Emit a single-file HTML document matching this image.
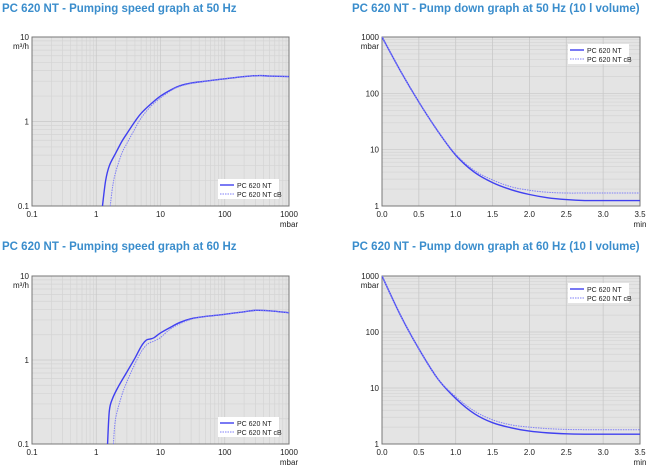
<!DOCTYPE html>
<html><head><meta charset="utf-8"><style>
body{margin:0;background:#fff;width:653px;height:468px;overflow:hidden;font-family:"Liberation Sans",sans-serif}
svg{position:absolute;left:0;top:0}
</style></head><body>
<svg id="s" width="653" height="468"></svg>
<script>
// ---- data ----
const speed50X=[1.25,1.4,1.6,2,2.5,3,4,5,7,10,15,20,30,50,100,200,350,500,1000];
const speed50Y=[0.1,0.2,0.3,0.42,0.58,0.72,1.0,1.25,1.6,2.0,2.4,2.65,2.85,3.0,3.2,3.4,3.5,3.45,3.4];
const speed50cbX=[1.65,1.8,2,2.5,3,4,5,7,10,15,20,30,50,100,200,350,500,1000];
const speed50cbY=[0.1,0.17,0.25,0.42,0.55,0.82,1.1,1.5,1.9,2.35,2.6,2.82,3.0,3.2,3.4,3.5,3.45,3.4];
const speed60X=[1.5,1.6,1.8,2.2,3,4,5,6,7,8,10,15,20,30,50,100,200,300,500,1000];
const speed60Y=[0.1,0.25,0.35,0.48,0.72,1.05,1.45,1.72,1.78,1.85,2.1,2.5,2.8,3.1,3.3,3.5,3.75,3.9,3.85,3.65];
const speed60cbX=[1.85,2,2.5,3,4,5,6,7,8,10,12,15,20,30,50,100,200,300,500,1000];
const speed60cbY=[0.1,0.2,0.38,0.55,0.9,1.25,1.5,1.62,1.68,1.85,2.1,2.4,2.7,3.05,3.3,3.5,3.75,3.9,3.85,3.65];
const down50X=[0,0.25,0.5,0.75,1.0,1.25,1.5,1.75,2.0,2.25,2.5,2.75,3.0,3.5];
const down50Y=[1000,250,70,22,8,4,2.6,1.95,1.6,1.4,1.3,1.25,1.25,1.25];
const down50cbY=[1000,250,70,22,8.3,4.3,2.9,2.2,1.9,1.75,1.7,1.7,1.7,1.7];
const down60X=[0,0.25,0.5,0.75,1.0,1.25,1.5,1.75,2.0,2.25,2.5,2.75,3.0,3.5];
const down60Y=[1000,200,50,15,6.5,3.5,2.4,1.95,1.7,1.58,1.52,1.5,1.5,1.5];
const down60cbY=[1000,200,50,15,7,3.9,2.7,2.2,2.0,1.88,1.82,1.8,1.8,1.8];
const speedXTicks=["0.1","1","10","100","1000"];
const speedYTicks=["0.1","1","10"];
const downXTicks=["0.0","0.5","1.0","1.5","2.0","2.5","3.0","3.5"];
const downYTicks=["1","10","100","1000"];
const legendNames=["PC 620 NT","PC 620 NT cB"];
// ---- drawing ----
const S=document.getElementById('s'),NS='http://www.w3.org/2000/svg';
function el(t,a,p){const e=document.createElementNS(NS,t);for(const k in a)e.setAttribute(k,a[k]);(p||S).appendChild(e);return e;}
function txt(x,y,s,opt){const e=el('text',Object.assign({x:x,y:y,'font-size':8,fill:'#222','font-family':'Liberation Sans, sans-serif'},opt||{}));e.textContent=s;return e;}
function smooth(pts){let d='M'+pts[0][0]+','+pts[0][1];for(let i=0;i<pts.length-1;i++){const p0=pts[i-1]||pts[i],p1=pts[i],p2=pts[i+1],p3=pts[i+2]||p2;
d+=' C'+(p1[0]+(p2[0]-p0[0])/6)+','+(p1[1]+(p2[1]-p0[1])/6)+' '+(p2[0]-(p3[0]-p1[0])/6)+','+(p2[1]-(p3[1]-p1[1])/6)+' '+p2[0]+','+p2[1];}return d;}
function chart(o){
 const g=el('g',{});
 const t=txt(o.tx,o.ty,o.title,{'font-size':11.5,'font-weight':'bold',fill:'#3a8dcc'});
 const L=o.l,R=o.r,T=o.t,B=o.b;
 el('rect',{x:L,y:T,width:R-L,height:B-T,fill:'#e4e4e4'},g);
 const sx=o.xlog?(v=>L+(Math.log10(v)-o.x0)/(o.x1-o.x0)*(R-L)):(v=>L+(v-o.x0)/(o.x1-o.x0)*(R-L));
 const sy=v=>B-(Math.log10(v)-o.y0)/(o.y1-o.y0)*(B-T);
 // y grid minor
 for(let d=o.y0;d<o.y1;d++)for(let m=1;m<10;m++){const y=sy(m*Math.pow(10,d));el('line',{x1:L,x2:R,y1:y,y2:y,stroke:m==1?'#c8c8c8':'#d4d4d4','stroke-width':0.7},g);}
 if(o.xlog){for(let d=o.x0;d<o.x1;d++)for(let m=1;m<10;m++){const x=sx(m*Math.pow(10,d));el('line',{x1:x,x2:x,y1:T,y2:B,stroke:m==1?'#c8c8c8':'#d4d4d4','stroke-width':0.7},g);}}
 else{for(let v=0;v<=3.5;v+=0.5){const x=sx(v);el('line',{x1:x,x2:x,y1:T,y2:B,stroke:'#c8c8c8','stroke-width':0.8},g);}}
 el('rect',{x:L,y:T,width:R-L,height:B-T,fill:'none',stroke:'#777','stroke-width':1},g);
 o.xt.forEach(s=>{const e=txt(sx(parseFloat(s)),B+11,s,{'text-anchor':'middle'});});
 o.yt.forEach(s=>{const e=txt(L-3,sy(parseFloat(s))+3,s,{'text-anchor':'end'});});
 const xu=txt(R,B+21,o.xunit,{'text-anchor':'middle'});
 const yu=txt(L-3,T+12,o.yunit,{'text-anchor':'end'});
 const cp=el('clipPath',{id:o.name+'c'},g);el('rect',{x:L,y:T-2,width:R-L,height:B-T+2},cp);
 o.series.forEach((s,i)=>{const pts=s.x.map((v,j)=>[sx(v),sy(s.y[j])]);
  const p=el('path',{d:smooth(pts),fill:'none',stroke:i?'#7f7ff7':'#4040f0','stroke-width':i?1:1.4,'stroke-dasharray':i?'1.5,1':'none','clip-path':'url(#'+o.name+'c)'},g);
  });
 const lg=el('g',{},g);
 el('rect',{x:o.lx,y:o.ly,width:61,height:20,fill:'#fff'},lg);
 legendNames.forEach((n,i)=>{const y=o.ly+6+i*9;el('line',{x1:o.lx+2,x2:o.lx+16,y1:y,y2:y,stroke:i?'#7f7ff7':'#4040f0','stroke-width':i?1:1.4,'stroke-dasharray':i?'1.5,1':'none'},lg);
  const e=txt(o.lx+19,y+3,n,{'font-size':7});});
}
chart({name:'speed-50hz',title:'PC 620 NT - Pumping speed graph at 50 Hz',tx:2,ty:12,l:32,r:289,t:37,b:206,xlog:true,x0:-1,x1:3,y0:-1,y1:1,xt:speedXTicks,yt:speedYTicks,xunit:'mbar',yunit:'m³/h',lx:218,ly:179,
 series:[{x:speed50X,y:speed50Y},{x:speed50cbX,y:speed50cbY}]});
chart({name:'down-50hz',title:'PC 620 NT - Pump down graph at 50 Hz (10 l volume)',tx:352,ty:12,l:382,r:640,t:37,b:206,xlog:false,x0:0,x1:3.5,y0:0,y1:3,xt:downXTicks,yt:downYTicks,xunit:'min',yunit:'mbar',lx:568,ly:44,
 series:[{x:down50X,y:down50Y},{x:down50X,y:down50cbY}]});
chart({name:'speed-60hz',title:'PC 620 NT - Pumping speed graph at 60 Hz',tx:2,ty:250,l:32,r:289,t:276,b:444,xlog:true,x0:-1,x1:3,y0:-1,y1:1,xt:speedXTicks,yt:speedYTicks,xunit:'mbar',yunit:'m³/h',lx:218,ly:417,
 series:[{x:speed60X,y:speed60Y},{x:speed60cbX,y:speed60cbY}]});
chart({name:'down-60hz',title:'PC 620 NT - Pump down graph at 60 Hz (10 l volume)',tx:352,ty:250,l:382,r:640,t:276,b:444,xlog:false,x0:0,x1:3.5,y0:0,y1:3,xt:downXTicks,yt:downYTicks,xunit:'min',yunit:'mbar',lx:568,ly:283,
 series:[{x:down60X,y:down60Y},{x:down60X,y:down60cbY}]});
</script>
</body></html>
